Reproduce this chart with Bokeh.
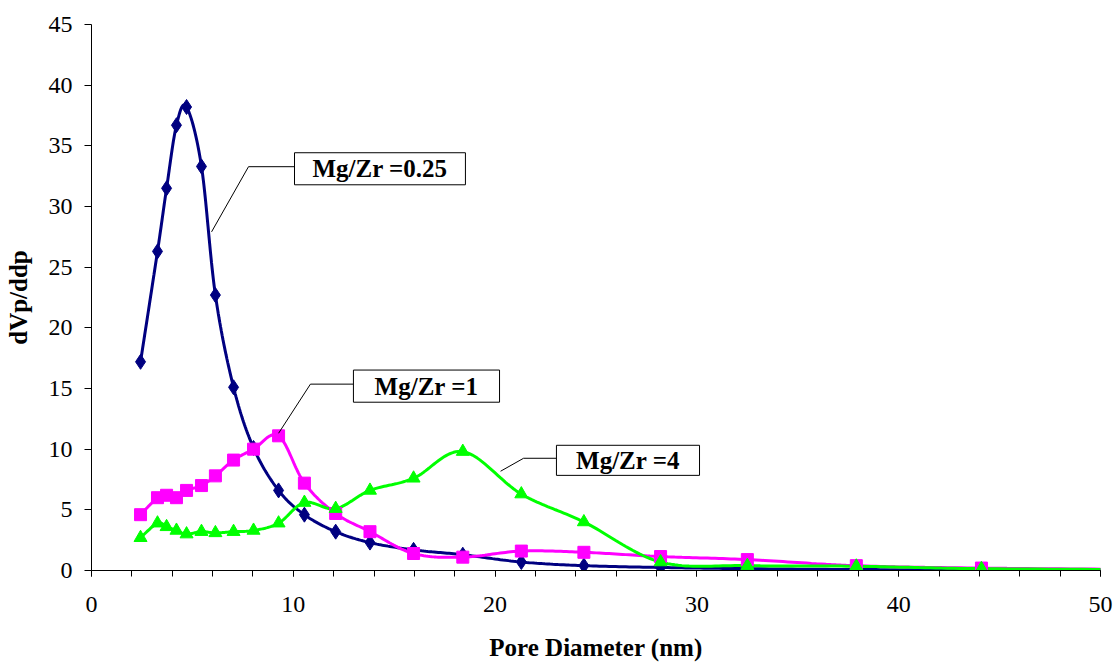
import numpy as np
from bokeh.plotting import figure
from bokeh.models import Range1d, FixedTicker
from bokeh.core.properties import value
from bokeh.embed import file_html
from bokeh.resources import INLINE

# ---- data ----
pore_diameter = [2.43, 3.27, 3.72, 4.21, 4.71, 5.45, 6.14, 7.04, 8.03, 9.27, 10.55,
                 12.1, 13.8, 15.96, 18.4, 21.3, 24.4, 28.2, 32.5, 37.9, 44.1, 55.0]
mgzr_025 = [17.2, 26.3, 31.5, 36.7, 38.2, 33.3, 22.7, 15.1, 10.1, 6.6, 4.6,
            3.2, 2.3, 1.7, 1.3, 0.7, 0.4, 0.25, 0.15, 0.08, 0.05, 0.02]
mgzr_1 = [4.6, 6.0, 6.2, 6.0, 6.6, 7.0, 7.8, 9.1, 10.0, 11.1, 7.2,
          4.7, 3.2, 1.4, 1.1, 1.6, 1.5, 1.15, 0.9, 0.4, 0.2, 0.05]
mgzr_4 = [2.7, 3.9, 3.6, 3.3, 3.0, 3.2, 3.1, 3.2, 3.3, 3.9, 5.6,
          5.1, 6.6, 7.6, 9.8, 6.3, 4.0, 0.7, 0.4, 0.35, 0.15, 0.05]

x_ticks = [0, 10, 20, 30, 40, 50]
y_ticks = [0, 5, 10, 15, 20, 25, 30, 35, 40, 45]

# callout labels (text, box extent, leader line points)
callout_text = ["Mg/Zr =0.25", "Mg/Zr =1", "Mg/Zr =4"]
callout_left = [10.06, 12.98, 23.04]
callout_right = [18.53, 20.22, 30.13]
callout_top = [34.43, 16.52, 10.32]
callout_bottom = [31.79, 13.87, 7.84]
leader_x = [[5.95, 7.78, 10.06], [9.27, 10.85, 12.98], [20.27, 21.41, 23.04]]
leader_y = [[27.91, 33.28, 33.28], [11.31, 15.36, 15.36], [8.18, 9.25, 9.25]]


def smooth(xs, ys, n=24):
    P = np.column_stack([xs, ys]).astype(float)
    out = [P[0]]
    m = len(P)
    for i in range(m - 1):
        p0 = P[i - 1] if i > 0 else P[i]
        p1 = P[i]
        p2 = P[i + 1]
        p3 = P[i + 2] if i + 2 < m else P[i + 1]
        c1 = p1 + (p2 - p0) / 6.0
        c2 = p2 - (p3 - p1) / 6.0
        t = np.linspace(0, 1, n)[1:, None]
        seg = ((1 - t) ** 3) * p1 + 3 * ((1 - t) ** 2) * t * c1 + 3 * (1 - t) * t ** 2 * c2 + t ** 3 * p2
        out.extend(seg)
    out = np.array(out)
    return out[:, 0], out[:, 1]


FONT = "'Liberation Serif', 'Times New Roman', serif"

p = figure(width=1113, height=663, output_backend="svg", toolbar_location=None,
           x_range=Range1d(0, 50), y_range=Range1d(0, 45),
           min_border_left=91, min_border_right=13, min_border_top=24, min_border_bottom=93)
p.outline_line_color = None
p.xgrid.grid_line_color = None
p.ygrid.grid_line_color = None
p.background_fill_color = "white"
p.border_fill_color = "white"

series = [(mgzr_025, "#000080", "diamond", 15),
          (mgzr_1, "#FF00FF", "square", 12),
          (mgzr_4, "#00FF00", "triangle", 13)]
for ys, col, mk, sz in series:
    sx, sy = smooth(pore_diameter, ys)
    p.line(sx, sy, line_color=col, line_width=3)
for ys, col, mk, sz in series:
    p.scatter(pore_diameter, ys, marker=mk, size=sz, fill_color=col, line_color=col)

# callouts
p.multi_line(leader_x, leader_y, line_color="black", line_width=1)
p.quad(left=callout_left, right=callout_right, top=callout_top, bottom=callout_bottom,
       fill_color="white", line_color="black", line_width=1)
cx = [(a + b) / 2 for a, b in zip(callout_left, callout_right)]
cy = [(a + b) / 2 for a, b in zip(callout_top, callout_bottom)]
p.text(cx, cy, text=callout_text, text_font=value(FONT), text_font_style="bold",
       text_font_size="25px", text_align="center", text_baseline="middle", text_color="black")

# axes
xa = p.xaxis[0]
xa.ticker = FixedTicker(ticks=x_ticks, minor_ticks=list(range(0, 51, 2)))
xa.axis_label = "Pore Diameter (nm)"
ya = p.yaxis[0]
ya.ticker = FixedTicker(ticks=y_ticks)
ya.axis_label = "dVp/ddp"
for ax in (xa, ya):
    ax.axis_line_color = "black"
    ax.major_tick_line_color = "black"
    ax.minor_tick_line_color = "black"
    ax.major_tick_in = 0
    ax.minor_tick_in = 0
    ax.major_label_text_font = FONT
    ax.major_label_text_font_size = "24px"
    ax.major_label_text_color = "black"
    ax.axis_label_text_font = FONT
    ax.axis_label_text_font_style = "bold"
    ax.axis_label_text_font_size = "25px"
    ax.axis_label_text_color = "black"
xa.major_tick_out = 6
xa.minor_tick_out = 6
xa.major_label_standoff = 20
xa.axis_label_standoff = 19
ya.major_tick_out = 7
ya.minor_tick_out = 0
ya.minor_tick_line_color = None
ya.major_label_standoff = 12
ya.axis_label_standoff = 14

open("out.html", "w").write(file_html(p, INLINE))
